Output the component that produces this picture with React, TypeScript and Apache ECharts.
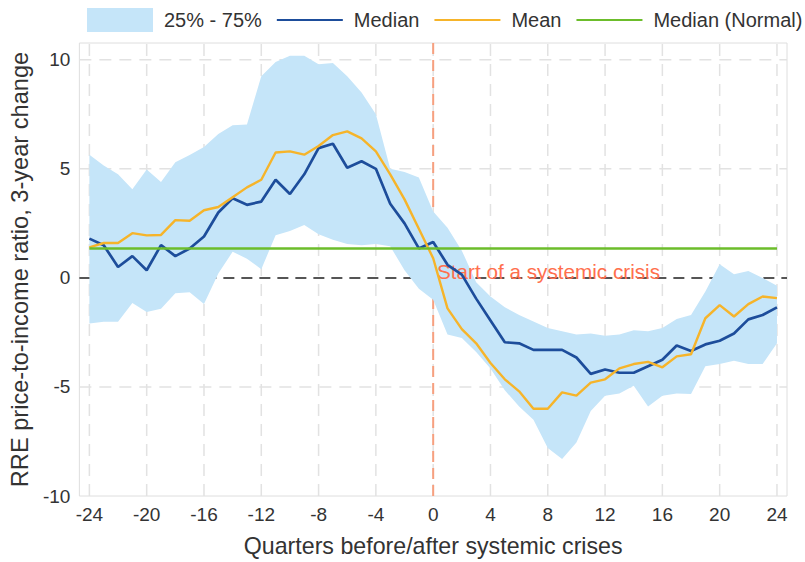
import React, { useEffect, useRef } from 'react';
import * as echarts from 'echarts';

const quarters = [-24, -23, -22, -21, -20, -19, -18, -17, -16, -15, -14, -13, -12, -11, -10, -9, -8, -7, -6, -5, -4, -3, -2, -1, 0, 1, 2, 3, 4, 5, 6, 7, 8, 9, 10, 11, 12, 13, 14, 15, 16, 17, 18, 19, 20, 21, 22, 23, 24];

const median = [1.8, 1.5, 0.5, 1.0, 0.35, 1.5, 1.0, 1.35, 1.9, 3.0, 3.65, 3.35, 3.5, 4.5, 3.85, 4.75, 5.95, 6.15, 5.05, 5.35, 5.0, 3.4, 2.5, 1.35, 1.65, 0.6, 0.15, -0.95, -1.95, -2.95, -3.0, -3.3, -3.3, -3.3, -3.65, -4.4, -4.2, -4.35, -4.35, -4.05, -3.75, -3.1, -3.35, -3.05, -2.88, -2.55, -1.9, -1.7, -1.35];

const mean = [1.4, 1.6, 1.6, 2.05, 1.95, 1.97, 2.65, 2.62, 3.1, 3.25, 3.7, 4.15, 4.5, 5.75, 5.8, 5.65, 6.05, 6.55, 6.72, 6.4, 5.8, 4.75, 3.6, 2.25, 0.9, -1.4, -2.35, -3.0, -3.9, -4.65, -5.2, -6.0, -6.0, -5.25, -5.4, -4.8, -4.65, -4.15, -3.95, -3.85, -4.1, -3.6, -3.5, -1.85, -1.25, -1.77, -1.2, -0.85, -0.93];

const p25 = [-2.09, -2.01, -2.01, -1.15, -1.56, -1.41, -0.7, -0.66, -1.2, 0.2, 1.2, 0.88, 0.4, 1.95, 2.15, 2.42, 2.0, 1.75, 1.55, 1.5, 1.55, 1.45, 0.35, -0.5, -1.0, -2.6, -2.75, -3.4, -4.15, -5.15, -5.9, -6.5, -7.8, -8.3, -7.55, -6.1, -5.4, -5.3, -4.95, -5.9, -5.4, -5.3, -5.32, -4.05, -3.95, -3.8, -3.95, -3.95, -3.0];

const p75 = [5.65, 5.15, 4.75, 4.07, 4.97, 4.4, 5.3, 5.64, 6.0, 6.6, 7.0, 7.03, 9.25, 9.9, 10.18, 10.18, 9.8, 9.85, 9.25, 8.5, 7.5, 5.0, 4.85, 4.6, 3.05, 2.3, 1.25, -0.2, -0.85, -1.35, -1.7, -2.0, -2.3, -2.45, -2.6, -2.55, -2.65, -2.6, -2.4, -2.45, -2.3, -1.88, -1.7, -0.62, 0.62, 0.17, 0.32, 0.0, -0.36];

const medianNormal = 1.35;
const crisisQuarter = 0;

const xTicks = [-24, -20, -16, -12, -8, -4, 0, 4, 8, 12, 16, 20, 24];
const yTicks = [-10, -5, 0, 5, 10];

const X_MIN = -24.7;
const X_MAX = 24.7;
const Y_MIN = -10;
const Y_MAX = 10.77;

const FONT = '"Liberation Sans", Arial, Helvetica, sans-serif';
const BAND = '#c5e5f9';
const BLUE = '#1d4d9b';
const ORANGE = '#f6b42a';
const GREEN = '#6cbd2b';
const GRID = '#e2e2e2';
const CRISIS = '#f7a07f';

export default function App() {
  const ref = useRef<HTMLDivElement>(null);

  useEffect(() => {
    if (!ref.current) return;
    const chart = echarts.init(ref.current, undefined, { renderer: 'svg' });

    const pairs = (arr: number[]) => quarters.map((q, i) => [q, arr[i]]);
    const bandData = quarters.map((q, i) => [q, p25[i], p75[i]]);

    const seg = (api: any, a: number[], b: number[], style: any, z2: number) => {
      const p = api.coord(a);
      const r = api.coord(b);
      return { type: 'line', z2, shape: { x1: p[0], y1: p[1], x2: r[0], y2: r[1] }, style };
    };

    const option: any = {
      animation: false,
      textStyle: { fontFamily: FONT },
      legend: {
        left: 87,
        top: 8,
        width: 718,
        padding: 0,
        itemWidth: 66,
        itemHeight: 24,
        itemGap: 14,
        selectedMode: false,
        textStyle: { fontSize: 20, color: '#333', fontFamily: FONT, padding: [0, 0, 0, 6] },
        data: [
          { name: '25% - 75%', icon: 'rect', itemStyle: { color: BAND } },
          { name: 'Median', itemStyle: { opacity: 0 } },
          { name: 'Mean', itemStyle: { opacity: 0 } },
          { name: 'Median (Normal)', itemStyle: { opacity: 0 } },
        ],
      },
      grid: {
        left: 79,
        right: 18,
        top: 43,
        bottom: 58,
        show: true,
        borderColor: '#dedede',
        borderWidth: 1,
        backgroundColor: 'transparent',
      },
      xAxis: {
        type: 'value',
        min: X_MIN,
        max: X_MAX,
        axisLine: { show: false },
        axisTick: { show: false },
        splitLine: { show: false },
        axisLabel: {
          customValues: xTicks,
          fontSize: 19,
          color: '#333',
          margin: 9,
          fontFamily: FONT,
        },
        name: 'Quarters before/after systemic crises',
        nameLocation: 'middle',
        nameGap: 38,
        nameTextStyle: { fontSize: 23.2, color: '#333', fontFamily: FONT },
      },
      yAxis: {
        type: 'value',
        min: Y_MIN,
        max: Y_MAX,
        interval: 5,
        axisLine: { show: false },
        axisTick: { show: false },
        splitLine: { show: false },
        axisLabel: {
          customValues: yTicks,
          formatter: (v: number) => (yTicks.indexOf(v) >= 0 ? String(v) : ''),
          fontSize: 19,
          color: '#333',
          margin: 9,
          fontFamily: FONT,
        },
        name: 'RRE price-to-income ratio, 3-year change',
        nameLocation: 'middle',
        nameGap: 27,
        nameTextStyle: { fontSize: 23.6, color: '#333', fontFamily: FONT },
      },
      graphic: [
        {
          type: 'text',
          left: 437,
          top: 261,
          z: 11,
          silent: true,
          style: {
            text: 'Start of a systemic crisis',
            fill: '#ff6f4d',
            font: '20.7px "Liberation Sans", Arial, sans-serif',
          },
        },
      ],
      series: [
        {
          name: '25% - 75%',
          type: 'custom',
          data: bandData,
          encode: { x: 0, y: [1, 2] },
          silent: true,
          itemStyle: { color: BAND },
          z: 2,
          renderItem: (params: any, api: any) => {
            if (params.dataIndex !== 0) return null;
            const children: any[] = [];
            const gridStyle = { stroke: GRID, lineWidth: 1.5, lineDash: [12, 8], fill: null };
            xTicks.forEach((v) => children.push(seg(api, [v, Y_MIN], [v, Y_MAX], gridStyle, 1)));
            yTicks.forEach((v) => {
              if (v !== 0 && v !== Y_MIN) children.push(seg(api, [X_MIN, v], [X_MAX, v], gridStyle, 1));
            });
            children.push(
              seg(api, [X_MIN, 0], [X_MAX, 0], { stroke: '#555', lineWidth: 2, lineDash: [11, 7], fill: null }, 2)
            );
            children.push(
              seg(
                api,
                [crisisQuarter, Y_MIN],
                [crisisQuarter, Y_MAX],
                { stroke: CRISIS, lineWidth: 2, lineDash: [11, 6], fill: null },
                3
              )
            );
            const pts: number[][] = [];
            for (let i = 0; i < quarters.length; i++) pts.push(api.coord([quarters[i], p75[i]]));
            for (let i = quarters.length - 1; i >= 0; i--) pts.push(api.coord([quarters[i], p25[i]]));
            children.push({
              type: 'polygon',
              z2: 10,
              shape: { points: pts },
              style: { fill: BAND, stroke: null },
            });
            return { type: 'group', children };
          },
        },
        {
          name: 'Median',
          type: 'line',
          data: pairs(median),
          symbol: 'none',
          color: BLUE,
          lineStyle: { color: BLUE, width: 2.7 },
          z: 12,
        },
        {
          name: 'Mean',
          type: 'line',
          data: pairs(mean),
          symbol: 'none',
          color: ORANGE,
          lineStyle: { color: ORANGE, width: 2.4 },
          z: 13,
        },
        {
          name: 'Median (Normal)',
          type: 'line',
          data: quarters.map((q) => [q, medianNormal]),
          symbol: 'none',
          color: GREEN,
          lineStyle: { color: GREEN, width: 2.6 },
          z: 14,
        },
      ],
    };

    chart.setOption(option);
    return () => {
      chart.dispose();
    };
  }, []);

  return (
    <div
      ref={ref}
      style={{ position: 'fixed', left: 0, top: 0, width: 805, height: 562, background: '#fff' }}
    />
  );
}
